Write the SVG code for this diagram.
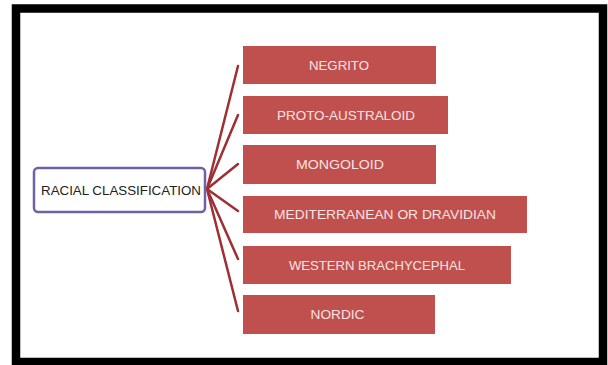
<svg xmlns="http://www.w3.org/2000/svg" width="608" height="365" viewBox="0 0 608 365">
<style>
.box{fill:#c0504d;}
.lbl{font-family:"Liberation Sans",Arial,sans-serif;font-size:13px;fill:#f7e4e3;text-anchor:middle;}
.conn{stroke:#9e2f33;stroke-width:2.5;fill:none;stroke-linecap:round;}
</style>
<rect x="0" y="0" width="608" height="365" fill="#ffffff"/>
<rect x="16" y="8.5" width="587" height="353.5" fill="#ffffff" stroke="#000000" stroke-width="8.5"/>
<g id="connectors">
<line class="conn" x1="207" y1="189" x2="238" y2="66"/>
<line class="conn" x1="207" y1="189" x2="238" y2="115"/>
<line class="conn" x1="207" y1="189" x2="238" y2="164"/>
<line class="conn" x1="207" y1="189" x2="238" y2="211"/>
<line class="conn" x1="207" y1="189" x2="238" y2="259"/>
<line class="conn" x1="207" y1="189" x2="238" y2="311"/>
</g>
<g id="root">
<rect x="34" y="168" width="171" height="44" rx="4" fill="#ffffff" stroke="#6f61a8" stroke-width="2.5"/>
<text x="121" y="194.5" font-family="Liberation Sans, Arial, sans-serif" font-size="13" fill="#222222" text-anchor="middle" textLength="160" lengthAdjust="spacingAndGlyphs">RACIAL CLASSIFICATION</text>
</g>
<g id="negrito">
<rect class="box" x="243" y="46" width="193" height="38"/>
<text class="lbl" x="339" y="69.7" textLength="60" lengthAdjust="spacingAndGlyphs">NEGRITO</text>
</g>
<g id="proto-australoid">
<rect class="box" x="243" y="96" width="205" height="38"/>
<text class="lbl" x="346" y="119.7" textLength="138" lengthAdjust="spacingAndGlyphs">PROTO-AUSTRALOID</text>
</g>
<g id="mongoloid">
<rect class="box" x="243" y="145" width="193" height="39"/>
<text class="lbl" x="340" y="169" textLength="88" lengthAdjust="spacingAndGlyphs">MONGOLOID</text>
</g>
<g id="mediterranean">
<rect class="box" x="243" y="196" width="284" height="37"/>
<text class="lbl" x="385" y="218.5" textLength="222" lengthAdjust="spacingAndGlyphs">MEDITERRANEAN OR DRAVIDIAN</text>
</g>
<g id="western">
<rect class="box" x="243" y="246" width="268" height="38"/>
<text class="lbl" x="377" y="269.5" textLength="176" lengthAdjust="spacingAndGlyphs">WESTERN BRACHYCEPHAL</text>
</g>
<g id="nordic">
<rect class="box" x="243" y="295" width="192" height="39"/>
<text class="lbl" x="337.5" y="319" textLength="54" lengthAdjust="spacingAndGlyphs">NORDIC</text>
</g>
</svg>
